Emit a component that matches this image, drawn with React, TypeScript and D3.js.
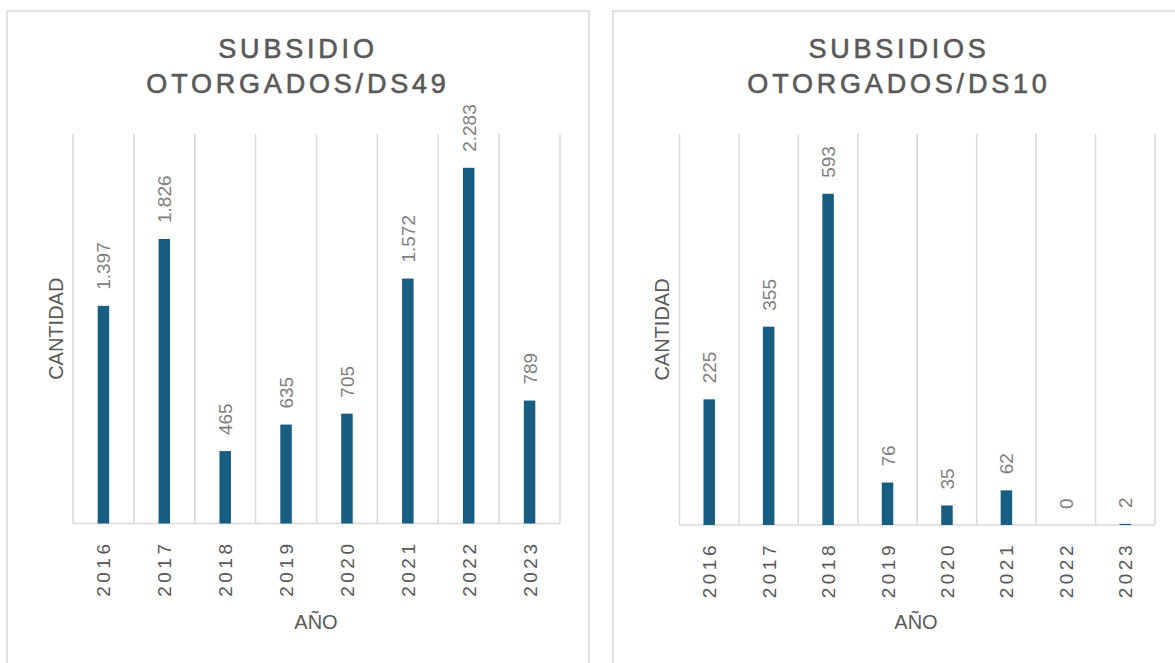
import React, { useEffect, useRef } from 'react';
import * as d3 from 'd3';

// data
const years = ['2016', '2017', '2018', '2019', '2020', '2021', '2022', '2023'];
const ds49Values = [1397, 1826, 465, 635, 705, 1572, 2283, 789];
const ds10Values = [225, 355, 593, 76, 35, 62, 0, 2];
const ds49Title = ['SUBSIDIO', 'OTORGADOS/DS49'];
const ds10Title = ['SUBSIDIOS', 'OTORGADOS/DS10'];
const yAxisTitle = 'CANTIDAD';
const xAxisTitle = 'AÑO';

const esLocale = d3.formatLocale({ decimal: ',', thousands: '.', grouping: [3], currency: ['', ''] });
const fmt = esLocale.format(',d');

const FONT = '"Liberation Sans", Arial, sans-serif';
const BAR = '#175e82';
const GRID = '#d9d9d9';
const TEXT = '#595959';
const LABEL = '#7f7f7f';

const panels = [
    {
        title: ds49Title, values: ds49Values, max: 2500,
        box: { x: 7, y: 11, w: 582, h: 700 },
        plot: { x0: 73, x1: 560, top: 134, base: 523.5 },
        titleX: 296, yTitleX: 63, xTitleX: 316
    },
    {
        title: ds10Title, values: ds10Values, max: 700,
        box: { x: 613, y: 11, w: 600, h: 700 },
        plot: { x0: 679.5, x1: 1155, top: 134, base: 525 },
        titleX: 897, yTitleX: 669, xTitleX: 916
    }
];

const App = () => {
    const svgRef = useRef(null);

    useEffect(() => {
        const svg = d3.select(svgRef.current);
        svg.selectAll('*').remove();

        panels.forEach(p => {
            const g = svg.append('g');

            // panel border
            g.append('rect')
                .attr('x', p.box.x).attr('y', p.box.y)
                .attr('width', p.box.w).attr('height', p.box.h)
                .attr('fill', '#fff')
                .attr('stroke', GRID)
                .attr('stroke-width', 1.5);

            const x = d3.scaleBand()
                .domain(years)
                .range([p.plot.x0, p.plot.x1]);

            const y = d3.scaleLinear()
                .domain([0, p.max])
                .range([p.plot.base, p.plot.top]);

            // vertical gridlines at category boundaries
            const edges = years.map(d => x(d)).concat([p.plot.x1]);
            g.selectAll('.grid')
                .data(edges)
                .enter()
                .append('line')
                .attr('x1', d => d).attr('x2', d => d)
                .attr('y1', y(p.max)).attr('y2', y(0))
                .attr('stroke', GRID)
                .attr('stroke-width', 1.5);

            // axis line
            g.append('line')
                .attr('x1', p.plot.x0).attr('x2', p.plot.x1)
                .attr('y1', y(0)).attr('y2', y(0))
                .attr('stroke', GRID)
                .attr('stroke-width', 1.5);

            const barW = 11.5;
            g.selectAll('.bar')
                .data(p.values)
                .enter()
                .append('rect')
                .attr('x', (d, i) => x(years[i]) + x.bandwidth() / 2 - barW / 2)
                .attr('y', d => y(d))
                .attr('width', barW)
                .attr('height', d => y(0) - y(d))
                .attr('fill', BAR);

            // data labels
            g.selectAll('.lbl')
                .data(p.values)
                .enter()
                .append('text')
                .attr('transform', (d, i) =>
                    `translate(${x(years[i]) + x.bandwidth() / 2 + 7}, ${y(d) - 16}) rotate(-90)`)
                .attr('font-family', FONT)
                .attr('font-size', 19)
                .attr('fill', LABEL)
                .text(d => fmt(d));

            // year tick labels
            g.selectAll('.yr')
                .data(years)
                .enter()
                .append('text')
                .attr('transform', d =>
                    `translate(${x(d) + x.bandwidth() / 2 + 7}, ${y(0) + 17}) rotate(-90)`)
                .attr('text-anchor', 'end')
                .attr('font-family', FONT)
                .attr('font-size', 19)
                .attr('letter-spacing', 3.5)
                .attr('fill', TEXT)
                .text(d => d);

            // title
            g.selectAll('.title')
                .data(p.title)
                .enter()
                .append('text')
                .attr('x', p.titleX + 2)
                .attr('y', (d, i) => 58 + i * 35)
                .attr('text-anchor', 'middle')
                .attr('font-family', FONT)
                .attr('font-size', 27)
                .attr('letter-spacing', 3.8)
                .attr('fill', TEXT)
                .attr('stroke', TEXT)
                .attr('stroke-width', 0.6)
                .text(d => d);

            // axis titles
            g.append('text')
                .attr('transform', `translate(${p.yTitleX}, ${(p.plot.top + p.plot.base) / 2}) rotate(-90)`)
                .attr('text-anchor', 'middle')
                .attr('font-family', FONT)
                .attr('font-size', 20)
                .attr('fill', TEXT)
                .text(yAxisTitle);

            g.append('text')
                .attr('x', p.xTitleX)
                .attr('y', 629)
                .attr('text-anchor', 'middle')
                .attr('font-family', FONT)
                .attr('font-size', 20)
                .attr('fill', TEXT)
                .text(xAxisTitle);
        });
    }, []);

    return (
        <svg ref={svgRef} width={1175} height={663}
            style={{ position: 'absolute', left: 0, top: 0, background: '#fff' }} />
    );
};

export default App;
